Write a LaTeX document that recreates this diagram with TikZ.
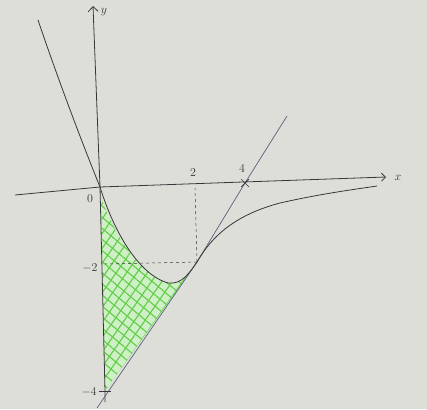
\documentclass[tikz,border=0pt]{standalone}
\usepackage{amsmath,amssymb}
\usepackage{tikz}
\usetikzlibrary{arrows.meta,patterns.meta}
\definecolor{paper}{RGB}{222,222,217}
\definecolor{pen}{RGB}{55,55,58}
\definecolor{tanpen}{RGB}{90,96,125}
\definecolor{hatch}{RGB}{95,205,70}

\begin{document}
\begin{tikzpicture}[x=1pt, y=-1pt, every node/.style={font=\large, text=pen}]
	\fill[paper] (0,0) rectangle (427,409);
	\useasboundingbox (0,0) rectangle (427,409);
	\coordinate (O) at (100,187);
	\coordinate (T) at (197,262);
	\coordinate (B) at (105,391);
	\coordinate (F) at (245,183);
	\fill[hatch!30] (101,198) .. controls (115,235) and (140,275) .. (168,283) .. controls (182,285) and (190,272) .. (T) -- (B) -- cycle;
	\foreach \ang in {55,-40} {
		\fill[pattern={Lines[angle=\ang,distance=8.5pt,line width=1.1pt]}, pattern color=hatch] (101,198) .. controls (115,235) and (140,275) .. (168,283) .. controls (182,285) and (190,272) .. (T) -- (B) -- cycle;
	}
	\draw[pen, line width=0.8pt, -{Straight Barb[length=4pt]}] (15,195) -- (O) -- (386,177);
	\draw[pen, line width=0.8pt, -{Straight Barb[length=5pt]}] (105,402) -- (B) -- (O) -- (93,6);
	\draw[pen, dashed, line width=0.5pt] (T) -- (195,188);
	\draw[pen, dashed, line width=0.5pt] (T) -- (105,264);
	\draw[tanpen, line width=0.7pt] (97,408) -- (T) -- (F) -- (287,116);
	\draw[pen, line width=0.8pt] (38,20) .. controls (60,85) and (85,150) .. (O) .. controls (115,235) and (140,275) .. (168,283) .. controls (182,285) and (190,272) .. (T) .. controls (212,236) and (235,215) .. (280,203) .. controls (320,194) and (350,190) .. (377,186);
	\draw[pen, line width=0.7pt] (99,391) -- (111,391);
	\draw[pen, line width=0.7pt] (241,179) -- (249,187) (241,187) -- (249,179);
	\node (ylab) at (104,12) {$y$};
	\node (xlab) at (398,178) {$x$};
	\node (zero) at (90,199) {$0$};
	\node (two) at (193,173) {$2$};
	\node (four) at (242,169) {$4$};
	\node (mtwo) at (90,268) {$-2$};
	\node (mfour) at (89,392) {$-4$};
\end{tikzpicture}
\end{document}
